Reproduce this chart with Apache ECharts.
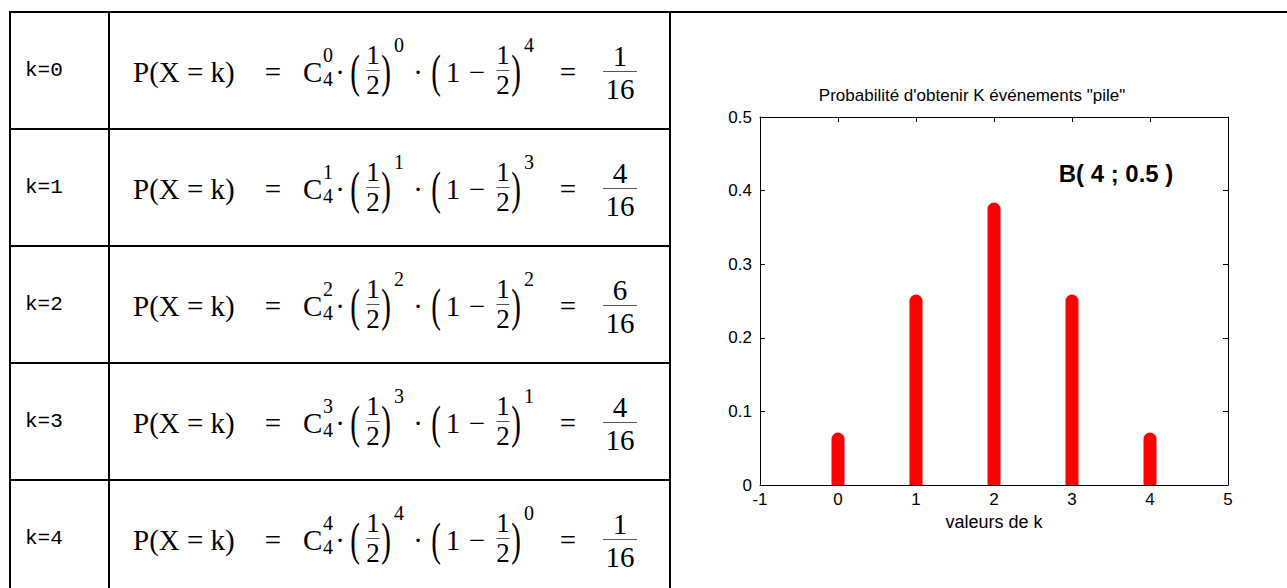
<!DOCTYPE html>
<html>
<head>
<meta charset="utf-8">
<title>Loi binomiale B(4 ; 0.5)</title>
<script src="https://cdn.jsdelivr.net/npm/echarts@6/dist/echarts.min.js"></script>
<style>
  html, body { margin: 0; padding: 0; background: #fff; }
  #main { width: 1287px; height: 588px; }
</style>
</head>
<body>
<div id="main"></div>
<script>
// Binomial law B(n ; p) for n = 4 coin flips, p = 1/2
const trials = 4;
const pHead = 0.5;
const kValues = [0, 1, 2, 3, 4];
const favourableCounts = [1, 4, 6, 4, 1];       // C(4,k)
const totalOutcomes = 16;
const probabilities = [1 / 16, 4 / 16, 6 / 16, 4 / 16, 1 / 16];
const xRange = [-1, 5];
const yRange = [0, 0.5];
const xTickStep = 1;
const yTickStep = 0.1;

const SERIF = '"Liberation Serif", "Times New Roman", serif';
const SANS = '"Liberation Sans", Arial, Helvetica, sans-serif';
const MONO = '"Liberation Mono", "Courier New", monospace';

// ---------- table of formulas (left part) ----------
const tableLeft = 10, tableTop = 12, colK = 109, colChart = 670, rowH = 117;
const pageW = 1287, pageH = 588;
const g = [];

function line(x1, y1, x2, y2, w, color) {
  g.push({ type: 'line', silent: true, z: 10,
    shape: { x1, y1, x2, y2 },
    style: { stroke: color || '#000', lineWidth: w || 2 } });
}
function text(x, y, str, size, opts) {
  opts = opts || {};
  g.push({ type: 'text', silent: true, z: 10, x, y,
    scaleY: opts.scaleY || 1,
    style: { text: str, fontSize: size, fontFamily: opts.family || SERIF,
      fontWeight: opts.weight || 'normal', fill: '#000',
      align: opts.align || 'left', verticalAlign: 'middle' } });
}
// stacked numerator / bar / denominator
function fraction(cx, cy, num, den, size, barW, numOff, denOff) {
  text(cx, cy + numOff, String(num), size, { align: 'center' });
  line(cx - barW / 2, cy, cx + barW / 2, cy, 1, '#555');
  text(cx, cy + denOff, String(den), size, { align: 'center' });
}

// grid lines of the table
line(tableLeft, tableTop, pageW, tableTop);
line(tableLeft, tableTop - 1, tableLeft, pageH);
line(colK, tableTop, colK, pageH);
line(colChart, tableTop, colChart, pageH);
for (let r = 1; r < kValues.length; r++) {
  line(tableLeft, tableTop + r * rowH, colChart, tableTop + r * rowH);
}

const F = 29;      // main formula size
const H = 27;      // digits of the inner 1/2 fractions
const S = 20;      // exponent size
kValues.forEach((k, r) => {
  const cy = tableTop + r * rowH + rowH / 2;
  text(25, cy, 'k=' + k, 21, { family: MONO });
  text(133, cy + 1, 'P(X = k)', F);
  text(273, cy + 1, '=', F, { align: 'center' });
  text(303, cy + 1, 'C', F);
  text(323, cy - 16, String(k), S);
  text(323, cy + 8, String(trials), S);
  text(340, cy + 1, '\u00B7', F, { align: 'center' });
  // (1/2)^k
  text(355, cy + 1, '(', F, { align: 'center', scaleY: 1.6 });
  fraction(373, cy, 1, 2, H, 13, -16, 14);
  text(386, cy + 1, ')', F, { align: 'center', scaleY: 1.6 });
  text(394, cy - 26, String(k), S);
  text(418, cy + 1, '\u00B7', F, { align: 'center' });
  // (1 - 1/2)^(n-k)
  text(436, cy + 1, '(', F, { align: 'center', scaleY: 1.6 });
  text(453, cy + 1, '1', F, { align: 'center' });
  text(477, cy + 1, '\u2212', F, { align: 'center' });
  fraction(503, cy, 1, 2, H, 13, -16, 14);
  text(516, cy + 1, ')', F, { align: 'center', scaleY: 1.6 });
  text(524, cy - 26, String(trials - k), S);
  text(568, cy + 1, '=', F, { align: 'center' });
  fraction(620, cy + 1, favourableCounts[r], totalOutcomes, F, 34, -16, 17);
});

// distribution label inside the plot
text(1116, 173, 'B( ' + trials + ' ; ' + pHead + ' )', 24, { family: SANS, weight: 'bold', align: 'center' });

// ---------- chart (right part) ----------
const axisCommon = {
  type: 'value',
  axisLine: { show: true, onZero: false, lineStyle: { color: '#000', width: 1 } },
  axisTick: { show: true, inside: true, length: 5, lineStyle: { color: '#000', width: 1 } },
  splitLine: { show: false },
  axisLabel: { show: false }
};
const labelStyle = { show: true, color: '#000', fontSize: 17, fontFamily: SANS };

const chart = echarts.init(document.getElementById('main'), null, { renderer: 'svg' });
chart.setOption({
  animation: false,
  backgroundColor: '#fff',
  title: {
    text: 'Probabilité d\'obtenir K événements "pile"',
    left: 972, top: 87, textAlign: 'center', padding: 0,
    textStyle: { fontSize: 17, fontWeight: 'normal', fontFamily: SANS, color: '#000' }
  },
  grid: { left: 760, top: 117, width: 468, height: 368, containLabel: false, outerBoundsMode: 'none' },
  xAxis: [
    Object.assign({}, axisCommon, {
      position: 'bottom', min: xRange[0], max: xRange[1], interval: xTickStep,
      axisLabel: Object.assign({}, labelStyle, { margin: 6 }),
      name: 'valeurs de k', nameLocation: 'middle', nameGap: 23,
      nameTextStyle: { color: '#000', fontSize: 18, fontFamily: SANS }
    }),
    Object.assign({}, axisCommon, {
      position: 'top', min: xRange[0], max: xRange[1], interval: xTickStep
    })
  ],
  yAxis: [
    Object.assign({}, axisCommon, {
      position: 'left', min: yRange[0], max: yRange[1], interval: yTickStep,
      axisLabel: Object.assign({}, labelStyle, {
        margin: 8, formatter: v => String(Math.round(v * 10) / 10)
      })
    }),
    Object.assign({}, axisCommon, {
      position: 'right', min: yRange[0], max: yRange[1], interval: yTickStep
    })
  ],
  graphic: { elements: g },
  series: [{
    type: 'custom',
    name: 'P(X = k)',
    coordinateSystem: 'cartesian2d',
    xAxisIndex: 0, yAxisIndex: 0,
    clip: true,
    data: kValues.map((k, i) => [k, probabilities[i]]),
    renderItem: function (params, api) {
      const base = api.coord([api.value(0), 0]);
      const top = api.coord([api.value(0), api.value(1)]);
      return {
        type: 'line',
        shape: { x1: base[0], y1: base[1], x2: top[0], y2: top[1] },
        style: { stroke: '#ff0000', lineWidth: 13, lineCap: 'round' }
      };
    }
  }]
});
</script>
</body>
</html>
